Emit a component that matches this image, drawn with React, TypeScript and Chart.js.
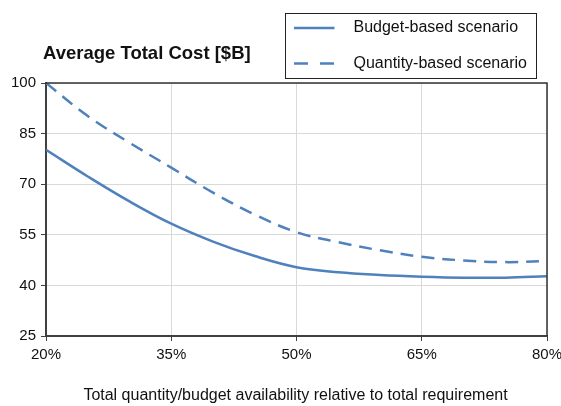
import React, { useEffect, useRef } from "react";
import { Chart, registerables } from "chart.js";

Chart.register(...registerables);

const availability = [20, 25, 30, 35, 40, 45, 50, 55, 60, 65, 70, 75, 80];
const budgetBased = [80.2, 72.3, 64.9, 58.3, 53.0, 48.7, 45.4, 43.9, 43.1, 42.6, 42.3, 42.3, 42.7];
const quantityBased = [100, 90.2, 82.3, 74.9, 67.5, 61.0, 55.8, 52.8, 50.4, 48.5, 47.4, 46.9, 47.2];
const xTicks = [20, 35, 50, 65, 80];
const yTicks = [25, 40, 55, 70, 85, 100];
const seriesNames = ["Budget-based scenario", "Quantity-based scenario"];
const chartTitle = "Average Total Cost [$B]";
const xTitle = "Total quantity/budget availability relative to total requirement";

const BLUE = "#4f81bd";
const FONT = "'Liberation Sans', Arial, sans-serif";

const overlay = {
  id: "overlay",
  afterDraw(chart: any) {
    const ctx = chart.ctx;
    const a = chart.chartArea;
    ctx.save();
    // frame top and right
    ctx.strokeStyle = "#333";
    ctx.lineWidth = 1.5;
    ctx.beginPath();
    ctx.moveTo(a.left, a.top);
    ctx.lineTo(a.right, a.top);
    ctx.lineTo(a.right, a.bottom);
    ctx.stroke();
    // title
    ctx.fillStyle = "#111";
    ctx.font = `bold 18.5px ${FONT}`;
    ctx.textAlign = "left";
    ctx.textBaseline = "middle";
    ctx.fillText(chartTitle, 43, 54);
    // x title
    ctx.font = `16px ${FONT}`;
    ctx.textAlign = "center";
    ctx.fillText(xTitle, 295.5, 396);
    // legend
    ctx.strokeStyle = "#222";
    ctx.lineWidth = 1;
    ctx.strokeRect(285.5, 13.5, 251, 65);
    const rows = [28, 63.5];
    ctx.font = `16px ${FONT}`;
    ctx.textAlign = "left";
    rows.forEach((y, i) => {
      ctx.strokeStyle = BLUE;
      ctx.lineWidth = 2.5;
      ctx.setLineDash(i === 0 ? [] : [14, 12]);
      ctx.beginPath();
      ctx.moveTo(294, y);
      ctx.lineTo(334.5, y);
      ctx.stroke();
      ctx.setLineDash([]);
      ctx.fillStyle = "#111";
      ctx.fillText(seriesNames[i], 353.5, y);
    });
    ctx.restore();
  },
};

export default function App() {
  const ref = useRef<HTMLCanvasElement>(null);
  useEffect(() => {
    if (!ref.current) return;
    const chart = new Chart(ref.current, {
      type: "line",
      data: {
        datasets: [
          {
            label: seriesNames[0],
            data: availability.map((x, i) => ({ x, y: budgetBased[i] })),
            borderColor: BLUE,
            borderWidth: 2.5,
            pointRadius: 0,
            tension: 0.4,
            fill: false,
          },
          {
            label: seriesNames[1],
            data: availability.map((x, i) => ({ x, y: quantityBased[i] })),
            borderColor: BLUE,
            borderWidth: 2.5,
            borderDash: [13, 8],
            pointRadius: 0,
            tension: 0.4,
            fill: false,
          },
        ],
      },
      options: {
        responsive: false,
        animation: false,
        layout: { padding: { top: 83, right: 14, left: 0, bottom: 0 } },
        plugins: { legend: { display: false }, title: { display: false }, tooltip: { enabled: false } },
        scales: {
          x: {
            type: "linear",
            min: 20,
            max: 80,
            afterBuildTicks: (s: any) => {
              s.ticks = xTicks.map((v) => ({ value: v }));
            },
            afterFit: (s: any) => {
              s.height = 70;
              s.paddingLeft = 0;
              s.paddingRight = 0;
            },
            ticks: {
              callback: (v: any) => v + "%",
              color: "#111",
              font: { family: FONT, size: 15 },
              padding: 5,
              maxRotation: 0,
            },
            grid: { color: "#d9d9d9", lineWidth: 1, tickColor: "#404040", tickLength: 5 },
            border: { color: "#404040", width: 2 },
          },
          y: {
            min: 25,
            max: 100,
            afterBuildTicks: (s: any) => {
              s.ticks = yTicks.map((v) => ({ value: v }));
            },
            afterFit: (s: any) => {
              s.width = 46;
              s.paddingTop = 0;
              s.paddingBottom = 0;
            },
            ticks: {
              color: "#111",
              font: { family: FONT, size: 15 },
              padding: 5,
            },
            grid: { color: "#d9d9d9", lineWidth: 1, tickColor: "#404040", tickLength: 5 },
            border: { color: "#404040", width: 2 },
          },
        },
      },
      plugins: [overlay],
    } as any);
    return () => chart.destroy();
  }, []);
  return (
    <div style={{ position: "fixed", left: 0, top: 0, width: 561, height: 406, background: "#fff" }}>
      <canvas ref={ref} width={561} height={406} style={{ display: "block" }} />
    </div>
  );
}
